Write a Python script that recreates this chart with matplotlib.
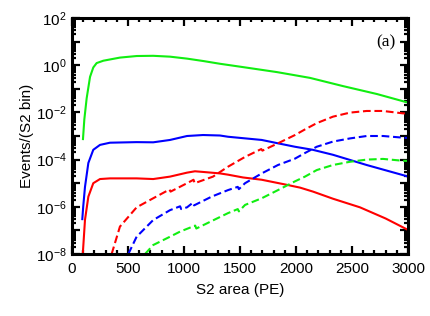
import numpy as np
import matplotlib
matplotlib.use("Agg")
import matplotlib.pyplot as plt
from matplotlib.ticker import FixedLocator, FuncFormatter, MultipleLocator, LogLocator, NullFormatter

plt.rcParams['font.family'] = ['Liberation Sans', 'DejaVu Sans']
plt.rcParams['mathtext.fontset'] = 'custom'
plt.rcParams['mathtext.rm'] = 'Liberation Sans'
plt.rcParams['mathtext.it'] = 'Liberation Sans:italic'

# ---- data ----
green_x = [98, 110, 131, 161, 190, 220, 280, 428, 578, 725, 875, 1027, 1173, 1321, 1527, 1830, 2125, 2420, 2723, 3000]
green_y = [7.4e-4, 5e-3, 4e-2, 0.32, 0.8, 1.23, 1.55, 2.1, 2.45, 2.5, 2.3, 1.9, 1.5, 1.15, 0.83, 0.51, 0.29, 0.13, 0.06, 0.026]

blue_x = [92, 100, 116, 146, 190, 250, 339, 577, 725, 875, 1027, 1170, 1321, 1393, 1694, 1839, 1991, 2150, 2330, 2631, 2955, 3000]
blue_y = [3.0e-7, 1e-6, 7e-6, 7.2e-5, 2.6e-4, 4.2e-4, 5.2e-4, 5.5e-4, 5.4e-4, 6.8e-4, 1.0e-3, 1.1e-3, 1.05e-3, 9.3e-4, 6.8e-4, 4.9e-4, 3.5e-4, 2.6e-4, 1.6e-4, 5.9e-5, 2.2e-5, 1.9e-5]

red_x = [95, 116, 146, 190, 250, 339, 577, 725, 875, 1027, 1098, 1170, 1321, 1393, 1527, 1694, 1920, 2036, 2152, 2330, 2571, 2800, 3000]
red_y = [8e-9, 2.8e-7, 2.7e-6, 1.0e-5, 1.5e-5, 1.6e-5, 1.6e-5, 1.5e-5, 1.9e-5, 2.8e-5, 3.2e-5, 3.0e-5, 2.6e-5, 2.3e-5, 1.75e-5, 1.4e-5, 8.5e-6, 6.5e-6, 4.4e-6, 2.2e-6, 9.5e-7, 3.2e-7, 1.05e-7]

red_d_x = [354, 428, 577, 725, 870, 880, 1027, 1085, 1095, 1259, 1393, 1545, 1690, 1700, 1839, 1991, 2080, 2185, 2330, 2482, 2631, 2777, 2955, 3000]
red_d_y = [1e-8, 1.45e-7, 9.5e-7, 2.3e-6, 5.4e-6, 4.4e-6, 1.0e-5, 1.4e-5, 1.0e-5, 1.9e-5, 5e-5, 1.3e-4, 2.8e-4, 2.4e-4, 4.9e-4, 1.1e-3, 1.9e-3, 3.5e-3, 6.6e-3, 9.8e-3, 1.15e-2, 1.15e-2, 9.1e-3, 9e-3]

blue_d_x = [503, 577, 725, 875, 965, 975, 1027, 1080, 1090, 1247, 1393, 1480, 1490, 1545, 1694, 1839, 1991, 2080, 2185, 2330, 2482, 2631, 2777, 2955, 3000]
blue_d_y = [1e-8, 5.4e-8, 2.75e-7, 7.2e-7, 1.05e-6, 8e-7, 9.5e-7, 1.5e-6, 1.15e-6, 2.7e-6, 5.1e-6, 7e-6, 5.6e-6, 1.0e-5, 2.6e-5, 5.9e-5, 1.1e-4, 1.9e-4, 3.5e-4, 5.8e-4, 7.9e-4, 1.0e-3, 1.0e-3, 8.5e-4, 8.3e-4]

green_d_x = [652, 725, 875, 965, 1100, 1110, 1232, 1393, 1480, 1490, 1545, 1694, 1839, 1991, 2080, 2185, 2330, 2482, 2631, 2777, 2955, 3000]
green_d_y = [1e-8, 2.4e-8, 5.4e-8, 8.9e-8, 1.6e-7, 1.2e-7, 2.3e-7, 5.4e-7, 8e-7, 6.4e-7, 1.2e-6, 2.3e-6, 5.1e-6, 1.2e-5, 1.9e-5, 3.6e-5, 5.9e-5, 8.1e-5, 1.0e-4, 1.07e-4, 8.9e-5, 8.8e-5]

x_ticks = [0, 500, 1000, 1500, 2000, 2500, 3000]
y_decades = [-8, -7, -6, -5, -4, -3, -2, -1, 0, 1, 2]

# ---- figure ----
fig = plt.figure(figsize=(4.30, 3.16), dpi=100)
ax = fig.add_axes([72/430, 1-254/316, 336/430, 236/316])

GREEN = '#11ee11'
BLUE = '#0000ff'
RED = '#ff0000'
lw = 1.5
dash = (0, (3.7, 1.8))
ax.plot(green_x, green_y, color=GREEN, lw=lw)
ax.plot(blue_x, blue_y, color=BLUE, lw=lw)
ax.plot(red_x, red_y, color=RED, lw=lw)
ax.plot(red_d_x, red_d_y, color=RED, lw=lw, ls=dash)
ax.plot(blue_d_x, blue_d_y, color=BLUE, lw=lw, ls=dash)
ax.plot(green_d_x, green_d_y, color=GREEN, lw=lw, ls=dash)

ax.set_yscale('log')
ax.set_xlim(0, 3000)
ax.set_ylim(1e-8, 1e2)

ax.xaxis.set_major_locator(FixedLocator(x_ticks))
ax.xaxis.set_minor_locator(MultipleLocator(100))
ax.yaxis.set_major_locator(FixedLocator([10.0**d for d in y_decades]))
ax.yaxis.set_minor_locator(LogLocator(base=10, subs=np.arange(2, 10), numticks=50))
ax.yaxis.set_minor_formatter(NullFormatter())

def yfmt(v, pos):
    e = int(round(np.log10(v)))
    if e % 2 != 0:
        return ''
    s = str(e).replace('-', '\u2212')
    return r'$\mathregular{10^{%s}}$' % s

ax.yaxis.set_major_formatter(FuncFormatter(yfmt))

for s in ax.spines.values():
    s.set_linewidth(2.2)
ax.tick_params(which='both', direction='in', top=True, right=True, width=1.6, labelsize=11)
ax.tick_params(which='major', length=6)
ax.tick_params(which='minor', length=3)
ax.tick_params(axis='x', pad=6)
ax.tick_params(axis='y', pad=4)

ax.set_xlabel('S2 area (PE)', fontsize=11, labelpad=5)
ax.set_ylabel('Events/(S2 bin)', fontsize=11, labelpad=1)

ax.text(0.962, 0.895, '(a)', transform=ax.transAxes, ha='right', va='center',
        fontsize=12.5, family=['Liberation Serif', 'DejaVu Serif'])

fig.savefig('out.png', dpi=100)
